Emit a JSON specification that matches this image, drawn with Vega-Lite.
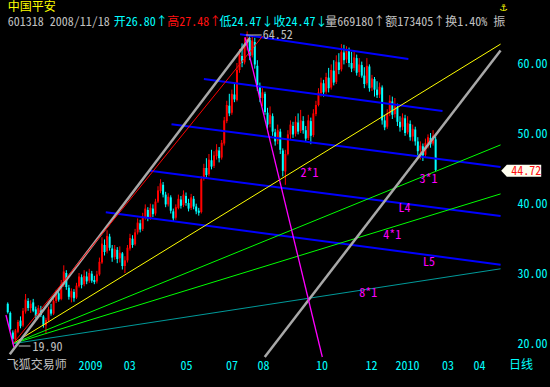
{
"$schema":"https://vega.github.io/schema/vega-lite/v6.json",
"width":490,"height":329,
"autosize":{"type":"none"},
"padding":{"left":0,"top":28,"right":60,"bottom":30},
"background":"#000000",
"config":{"view":{"stroke":null}},
"datasets":{
"k":[
{"i":-2,"o":25.6,"h":25.8,"l":24.2,"c":24.4},
{"i":-1,"o":24.3,"h":24.5,"l":21.8,"c":22.0},
{"i":0,"o":21.5,"h":21.8,"l":19.9,"c":20.6},
{"i":1,"o":20.5,"h":22.0,"l":20.3,"c":21.8},
{"i":2,"o":21.6,"h":23.3,"l":21.4,"c":23.0},
{"i":3,"o":23.2,"h":23.8,"l":22.1,"c":22.4},
{"i":4,"o":22.5,"h":25.0,"l":22.3,"c":24.6},
{"i":5,"o":24.5,"h":27.0,"l":24.2,"c":26.2},
{"i":6,"o":26.0,"h":26.4,"l":24.6,"c":25.0},
{"i":7,"o":25.0,"h":26.1,"l":24.3,"c":25.6},
{"i":8,"o":25.8,"h":26.3,"l":24.4,"c":24.6},
{"i":9,"o":24.8,"h":25.2,"l":23.5,"c":23.8},
{"i":10,"o":23.9,"h":25.4,"l":23.6,"c":25.0},
{"i":11,"o":24.8,"h":25.3,"l":23.7,"c":24.0},
{"i":12,"o":23.8,"h":24.0,"l":22.2,"c":22.6},
{"i":13,"o":22.5,"h":23.6,"l":21.4,"c":23.3},
{"i":14,"o":23.2,"h":25.2,"l":23.0,"c":24.8},
{"i":15,"o":24.8,"h":25.6,"l":23.9,"c":24.2},
{"i":16,"o":24.2,"h":26.4,"l":24.0,"c":26.0},
{"i":17,"o":26.0,"h":27.6,"l":25.7,"c":27.2},
{"i":18,"o":27.1,"h":27.8,"l":25.9,"c":26.2},
{"i":19,"o":26.3,"h":29.0,"l":26.1,"c":28.4},
{"i":20,"o":28.3,"h":31.1,"l":28.0,"c":30.2},
{"i":21,"o":30.0,"h":30.4,"l":27.6,"c":28.0},
{"i":22,"o":27.9,"h":28.3,"l":26.2,"c":26.6},
{"i":23,"o":26.5,"h":27.8,"l":25.8,"c":27.4},
{"i":24,"o":27.3,"h":27.7,"l":25.9,"c":26.4},
{"i":25,"o":26.5,"h":28.6,"l":26.3,"c":28.2},
{"i":26,"o":28.1,"h":30.0,"l":27.9,"c":29.5},
{"i":27,"o":29.4,"h":29.8,"l":27.8,"c":28.3},
{"i":28,"o":28.4,"h":30.4,"l":28.1,"c":29.6},
{"i":29,"o":29.5,"h":30.2,"l":28.4,"c":28.8},
{"i":30,"o":28.9,"h":30.6,"l":28.6,"c":30.0},
{"i":31,"o":29.9,"h":30.3,"l":28.6,"c":28.9},
{"i":32,"o":29.0,"h":29.6,"l":28.4,"c":28.7},
{"i":33,"o":28.8,"h":30.3,"l":28.5,"c":29.8},
{"i":34,"o":29.8,"h":32.2,"l":29.6,"c":31.6},
{"i":35,"o":31.5,"h":35.1,"l":31.3,"c":34.2},
{"i":36,"o":34.0,"h":34.8,"l":32.5,"c":33.0},
{"i":37,"o":33.1,"h":36.1,"l":32.8,"c":35.3},
{"i":38,"o":35.2,"h":35.6,"l":33.2,"c":33.6},
{"i":39,"o":33.5,"h":34.0,"l":31.6,"c":32.2},
{"i":40,"o":32.3,"h":34.0,"l":31.9,"c":33.4},
{"i":41,"o":33.3,"h":33.7,"l":31.4,"c":32.0},
{"i":42,"o":32.1,"h":33.8,"l":31.5,"c":32.9},
{"i":43,"o":32.8,"h":33.0,"l":30.5,"c":31.0},
{"i":44,"o":31.0,"h":32.4,"l":30.0,"c":31.8},
{"i":45,"o":31.8,"h":34.0,"l":31.5,"c":33.6},
{"i":46,"o":33.5,"h":35.6,"l":33.2,"c":35.0},
{"i":47,"o":34.9,"h":35.4,"l":33.6,"c":34.0},
{"i":48,"o":34.1,"h":36.3,"l":33.9,"c":35.8},
{"i":49,"o":35.8,"h":37.8,"l":35.5,"c":37.2},
{"i":50,"o":37.1,"h":37.6,"l":35.8,"c":36.2},
{"i":51,"o":36.3,"h":38.6,"l":36.0,"c":38.0},
{"i":52,"o":37.9,"h":39.8,"l":37.6,"c":39.2},
{"i":53,"o":39.0,"h":39.4,"l":37.4,"c":37.8},
{"i":54,"o":37.9,"h":39.9,"l":37.6,"c":39.3},
{"i":55,"o":39.2,"h":39.8,"l":38.0,"c":38.4},
{"i":56,"o":38.5,"h":40.6,"l":38.2,"c":40.2},
{"i":57,"o":40.2,"h":42.4,"l":40.0,"c":41.8},
{"i":58,"o":41.7,"h":43.4,"l":41.4,"c":42.8},
{"i":59,"o":42.6,"h":43.0,"l":40.8,"c":41.2},
{"i":60,"o":41.2,"h":41.6,"l":39.4,"c":39.8},
{"i":61,"o":39.8,"h":41.4,"l":39.5,"c":40.9},
{"i":62,"o":40.8,"h":41.1,"l":38.5,"c":38.9},
{"i":63,"o":38.8,"h":39.2,"l":37.3,"c":37.8},
{"i":64,"o":37.9,"h":39.8,"l":37.6,"c":39.4},
{"i":65,"o":39.3,"h":41.2,"l":39.1,"c":40.6},
{"i":66,"o":40.5,"h":41.0,"l":39.2,"c":39.6},
{"i":67,"o":39.7,"h":41.8,"l":39.4,"c":41.2},
{"i":68,"o":41.0,"h":41.5,"l":39.6,"c":40.0},
{"i":69,"o":40.0,"h":40.6,"l":38.8,"c":39.2},
{"i":70,"o":39.3,"h":41.3,"l":39.0,"c":40.8},
{"i":71,"o":40.6,"h":41.0,"l":39.1,"c":39.5},
{"i":72,"o":39.5,"h":39.9,"l":38.4,"c":38.8},
{"i":73,"o":38.9,"h":39.3,"l":38.2,"c":38.6},
{"i":74,"o":38.7,"h":43.8,"l":38.5,"c":43.4},
{"i":75,"o":43.5,"h":45.6,"l":43.2,"c":45.0},
{"i":76,"o":45.0,"h":46.4,"l":43.6,"c":44.0},
{"i":77,"o":44.1,"h":47.0,"l":43.8,"c":46.2},
{"i":78,"o":46.1,"h":47.6,"l":44.8,"c":45.2},
{"i":79,"o":45.3,"h":47.4,"l":45.0,"c":46.8},
{"i":80,"o":46.7,"h":48.4,"l":46.2,"c":47.6},
{"i":81,"o":47.5,"h":48.0,"l":45.8,"c":46.4},
{"i":82,"o":46.5,"h":49.0,"l":46.2,"c":48.6},
{"i":83,"o":48.5,"h":52.3,"l":48.2,"c":51.8},
{"i":84,"o":51.7,"h":54.6,"l":51.4,"c":54.0},
{"i":85,"o":53.9,"h":55.6,"l":52.4,"c":52.8},
{"i":86,"o":52.9,"h":56.2,"l":52.6,"c":55.6},
{"i":87,"o":55.5,"h":57.1,"l":54.4,"c":54.8},
{"i":88,"o":54.7,"h":60.0,"l":54.5,"c":59.0},
{"i":89,"o":59.0,"h":62.0,"l":58.6,"c":61.2},
{"i":90,"o":61.0,"h":62.8,"l":59.4,"c":60.0},
{"i":91,"o":60.1,"h":63.6,"l":59.8,"c":62.6},
{"i":92,"o":62.5,"h":64.52,"l":61.8,"c":63.4},
{"i":93,"o":63.3,"h":64.0,"l":60.4,"c":61.0},
{"i":94,"o":61.1,"h":64.0,"l":60.8,"c":63.2},
{"i":95,"o":63.0,"h":63.6,"l":59.2,"c":59.8},
{"i":96,"o":59.6,"h":60.4,"l":56.0,"c":56.8},
{"i":97,"o":56.6,"h":57.2,"l":54.4,"c":55.0},
{"i":98,"o":55.0,"h":56.4,"l":53.8,"c":55.8},
{"i":99,"o":55.6,"h":55.9,"l":52.6,"c":53.0},
{"i":100,"o":52.9,"h":53.6,"l":50.6,"c":51.2},
{"i":101,"o":51.3,"h":53.8,"l":50.8,"c":52.6},
{"i":102,"o":52.4,"h":52.8,"l":49.6,"c":50.2},
{"i":103,"o":50.1,"h":50.6,"l":48.2,"c":48.8},
{"i":104,"o":48.9,"h":51.2,"l":48.4,"c":50.4},
{"i":105,"o":50.2,"h":50.6,"l":47.0,"c":47.6},
{"i":106,"o":47.5,"h":47.8,"l":43.8,"c":44.6},
{"i":107,"o":44.5,"h":47.6,"l":42.6,"c":47.0},
{"i":108,"o":47.0,"h":50.4,"l":46.8,"c":49.8},
{"i":109,"o":49.8,"h":51.8,"l":49.0,"c":51.2},
{"i":110,"o":51.0,"h":51.6,"l":49.3,"c":49.8},
{"i":111,"o":49.9,"h":52.4,"l":49.5,"c":51.6},
{"i":112,"o":51.5,"h":52.8,"l":49.8,"c":50.2},
{"i":113,"o":50.3,"h":53.3,"l":50.0,"c":51.8},
{"i":114,"o":51.7,"h":52.4,"l":49.9,"c":50.4},
{"i":115,"o":50.4,"h":51.0,"l":48.8,"c":49.2},
{"i":116,"o":49.3,"h":52.6,"l":49.0,"c":51.8},
{"i":117,"o":51.7,"h":52.2,"l":48.4,"c":49.6},
{"i":118,"o":49.7,"h":53.4,"l":49.4,"c":52.8},
{"i":119,"o":52.7,"h":54.6,"l":52.4,"c":54.0},
{"i":120,"o":54.0,"h":56.4,"l":53.8,"c":55.8},
{"i":121,"o":55.7,"h":57.9,"l":55.2,"c":57.2},
{"i":122,"o":57.1,"h":57.6,"l":55.2,"c":55.8},
{"i":123,"o":55.9,"h":58.6,"l":55.6,"c":58.0},
{"i":124,"o":57.9,"h":59.3,"l":55.8,"c":56.4},
{"i":125,"o":56.5,"h":59.8,"l":56.2,"c":59.0},
{"i":126,"o":58.9,"h":60.4,"l":56.8,"c":57.2},
{"i":127,"o":57.3,"h":61.1,"l":57.0,"c":60.2},
{"i":128,"o":60.1,"h":61.4,"l":58.4,"c":59.0},
{"i":129,"o":59.1,"h":62.7,"l":58.8,"c":61.6},
{"i":130,"o":61.5,"h":62.6,"l":59.8,"c":60.4},
{"i":131,"o":60.5,"h":62.4,"l":60.0,"c":61.8},
{"i":132,"o":61.7,"h":62.2,"l":59.4,"c":60.0},
{"i":133,"o":60.0,"h":61.6,"l":58.7,"c":59.2},
{"i":134,"o":59.3,"h":61.8,"l":58.9,"c":60.8},
{"i":135,"o":60.7,"h":61.2,"l":58.2,"c":58.6},
{"i":136,"o":58.7,"h":60.7,"l":58.0,"c":59.8},
{"i":137,"o":59.7,"h":60.2,"l":57.9,"c":58.2},
{"i":138,"o":58.2,"h":59.4,"l":56.4,"c":57.0},
{"i":139,"o":57.1,"h":60.7,"l":56.8,"c":59.6},
{"i":140,"o":59.5,"h":59.8,"l":55.9,"c":56.4},
{"i":141,"o":56.5,"h":58.3,"l":56.0,"c":57.8},
{"i":142,"o":57.7,"h":58.0,"l":55.2,"c":56.2},
{"i":143,"o":56.2,"h":57.4,"l":55.0,"c":55.4},
{"i":144,"o":55.5,"h":57.2,"l":55.0,"c":56.6},
{"i":145,"o":56.5,"h":56.8,"l":51.2,"c":51.8},
{"i":146,"o":51.8,"h":52.6,"l":50.4,"c":50.8},
{"i":147,"o":50.9,"h":53.4,"l":50.6,"c":52.8},
{"i":148,"o":52.8,"h":55.4,"l":52.4,"c":54.6},
{"i":149,"o":54.5,"h":55.2,"l":52.0,"c":52.6},
{"i":150,"o":52.7,"h":55.0,"l":52.2,"c":53.8},
{"i":151,"o":53.7,"h":54.2,"l":51.0,"c":51.6},
{"i":152,"o":51.6,"h":52.4,"l":50.2,"c":50.8},
{"i":153,"o":50.9,"h":52.8,"l":50.4,"c":52.2},
{"i":154,"o":52.1,"h":52.6,"l":49.6,"c":50.0},
{"i":155,"o":50.1,"h":52.4,"l":49.8,"c":51.4},
{"i":156,"o":51.3,"h":51.8,"l":48.9,"c":49.4},
{"i":157,"o":49.5,"h":51.2,"l":48.8,"c":50.6},
{"i":158,"o":50.5,"h":50.9,"l":48.2,"c":48.8},
{"i":159,"o":48.8,"h":49.4,"l":46.8,"c":47.4},
{"i":160,"o":47.5,"h":48.8,"l":46.2,"c":48.2},
{"i":161,"o":48.1,"h":48.5,"l":46.0,"c":46.8},
{"i":162,"o":46.9,"h":49.2,"l":46.5,"c":48.6},
{"i":163,"o":48.5,"h":49.8,"l":47.8,"c":49.4},
{"i":164,"o":49.3,"h":50.0,"l":47.9,"c":48.4},
{"i":165,"o":48.5,"h":50.4,"l":48.2,"c":49.6},
{"i":166,"o":49.1,"h":49.5,"l":44.5,"c":44.72}
],
"seg":[
{"g":"blue","i1":89.2,"p1":64.1,"i2":155.3,"p2":60.57},
{"g":"blue","i1":75.0,"p1":57.71,"i2":168.7,"p2":53.14},
{"g":"blue","i1":62.3,"p1":51.24,"i2":191.5,"p2":45.14},
{"g":"blue","i1":53.8,"p1":44.61,"i2":191.5,"p2":38.14},
{"g":"blue","i1":36.5,"p1":38.67,"i2":191.5,"p2":31.19},
{"g":"yellow","i1":0,"p1":19.9,"i2":191.5,"p2":62.7},
{"g":"green","i1":0,"p1":19.9,"i2":191.5,"p2":48.3},
{"g":"green","i1":0,"p1":19.9,"i2":191.5,"p2":41.3},
{"g":"teal","i1":0,"p1":19.9,"i2":191.5,"p2":30.6},
{"g":"gray","i1":-1.2,"p1":18.4,"i2":93.1,"p2":63.57},
{"g":"gray","i1":98.9,"p1":18.0,"i2":191.5,"p2":61.79},
{"g":"red","i1":0,"p1":19.86,"i2":98.1,"p2":63.86},
{"g":"magenta","i1":91.15,"p1":63.71,"i2":121.5,"p2":18.0},
{"g":"magenta","i1":-2.7,"p1":24.0,"i2":0.4,"p2":19.43},
{"g":"leader","i1":91.5,"p1":64.0,"i2":97.7,"p2":64.0},
{"g":"leader","i1":2.3,"p1":19.57,"i2":6.9,"p2":19.57}
],
"txt":[
{"t":"中国平安","i":-2.0,"p":67.95,"g":"yel"},
{"t":"⚓","i":191.2,"p":67.95,"g":"yel"},
{"t":"601318 2008/11/18","i":-2.0,"p":65.86,"g":"gray"},
{"t":"开26.80↑","i":39.6,"p":65.86,"g":"cyan"},
{"t":"高27.48↑","i":60.6,"p":65.86,"g":"red"},
{"t":"低24.47↓收24.47↓","i":81.15,"p":65.86,"g":"cyan"},
{"t":"量669180↑额173405↑换1.40% 振","i":122.7,"p":65.86,"g":"gray"},
{"t":"飞狐交易师","i":-2.4,"p":16.86,"g":"gray"},
{"t":"日线","i":194.8,"p":16.86,"g":"cyan"},
{"t":"64.52","i":98.1,"p":64.0,"g":"gray"},
{"t":"19.90","i":7.7,"p":19.43,"g":"gray"},
{"t":"2*1","i":112.96,"p":44.24,"g":"mag"},
{"t":"3*1","i":159.7,"p":43.4,"g":"mag"},
{"t":"L4","i":151.4,"p":39.3,"g":"mag"},
{"t":"4*1","i":145.4,"p":35.4,"g":"mag"},
{"t":"L5","i":161.0,"p":31.6,"g":"mag"},
{"t":"8*1","i":136.0,"p":27.2,"g":"mag"},
{"t":"44.72","i":195.65,"p":44.6,"g":"red"}
]
},
"layer":[
{"data":{"name":"k"},
 "mark":{"type":"rule","strokeWidth":1},
 "encoding":{
  "x":{"field":"i","type":"quantitative","scale":{"domain":[-3.0769,185.3846],"nice":false,"zero":false},
   "axis":{"values":[25.6,43.4,65.6,83.5,95.9,118.8,138.3,150,168.3,180.7],
    "labelExpr":"datum.value<30?'2009':datum.value<50?'03':datum.value<70?'05':datum.value<90?'07':datum.value<100?'08':datum.value<125?'10':datum.value<145?'12':datum.value<160?'2010':datum.value<175?'03':'04'",
    "labelAlign":"left","labelBaseline":"middle","labelPadding":8,"ticks":false,"domain":false,"grid":false,"title":null,
    "labelColor":"#00ffff","labelFont":"Noto Sans Mono CJK SC, DejaVu Sans Mono, monospace","labelFontSize":12,"labelOverlap":false,"labelFlush":false}},
  "y":{"field":"l","type":"quantitative","scale":{"domain":[18,65],"nice":false,"zero":false},
   "axis":{"orient":"right","values":[20,30,40,50,60],"format":".2f","labelAlign":"left","labelBaseline":"middle","labelPadding":27,"ticks":false,"domain":false,"grid":false,"title":null,
    "labelColor":"#00ffff","labelFont":"Noto Sans Mono CJK SC, DejaVu Sans Mono, monospace","labelFontSize":12}},
  "y2":{"field":"h"},
  "color":{"condition":{"test":"datum.c >= datum.o","value":"#ff0000"},"value":"#00ffff"}
 }},
{"data":{"name":"k"},
 "mark":{"type":"bar","width":2},
 "encoding":{
  "x":{"field":"i","type":"quantitative","scale":{"domain":[-3.0769,185.3846],"nice":false,"zero":false},"axis":{"title":null}},
  "y":{"field":"o","type":"quantitative","scale":{"domain":[18,65],"nice":false,"zero":false},"axis":{"title":null}},
  "y2":{"field":"c"},
  "color":{"condition":{"test":"datum.c >= datum.o","value":"#ff0000"},"value":"#00ffff"}
 }},
{"data":{"name":"seg"},
 "transform":[{"filter":"datum.g=='blue'"}],
 "mark":{"type":"rule","color":"#0000ff","strokeWidth":2},
 "encoding":{"x":{"field":"i1","type":"quantitative","scale":{"domain":[-3.0769,185.3846],"nice":false,"zero":false},"axis":{"title":null}},"x2":{"field":"i2"},
  "y":{"field":"p1","type":"quantitative","scale":{"domain":[18,65],"nice":false,"zero":false},"axis":{"title":null}},"y2":{"field":"p2"}}},
{"data":{"name":"seg"},
 "transform":[{"filter":"datum.g=='yellow'"}],
 "mark":{"type":"rule","color":"#ffff00","strokeWidth":1},
 "encoding":{"x":{"field":"i1","type":"quantitative","scale":{"domain":[-3.0769,185.3846],"nice":false,"zero":false},"axis":{"title":null}},"x2":{"field":"i2"},
  "y":{"field":"p1","type":"quantitative","scale":{"domain":[18,65],"nice":false,"zero":false},"axis":{"title":null}},"y2":{"field":"p2"}}},
{"data":{"name":"seg"},
 "transform":[{"filter":"datum.g=='green'"}],
 "mark":{"type":"rule","color":"#00ff00","strokeWidth":1},
 "encoding":{"x":{"field":"i1","type":"quantitative","scale":{"domain":[-3.0769,185.3846],"nice":false,"zero":false},"axis":{"title":null}},"x2":{"field":"i2"},
  "y":{"field":"p1","type":"quantitative","scale":{"domain":[18,65],"nice":false,"zero":false},"axis":{"title":null}},"y2":{"field":"p2"}}},
{"data":{"name":"seg"},
 "transform":[{"filter":"datum.g=='teal'"}],
 "mark":{"type":"rule","color":"#009a9a","strokeWidth":1},
 "encoding":{"x":{"field":"i1","type":"quantitative","scale":{"domain":[-3.0769,185.3846],"nice":false,"zero":false},"axis":{"title":null}},"x2":{"field":"i2"},
  "y":{"field":"p1","type":"quantitative","scale":{"domain":[18,65],"nice":false,"zero":false},"axis":{"title":null}},"y2":{"field":"p2"}}},
{"data":{"name":"seg"},
 "transform":[{"filter":"datum.g=='gray'"}],
 "mark":{"type":"rule","color":"#a8a8a8","strokeWidth":2.5},
 "encoding":{"x":{"field":"i1","type":"quantitative","scale":{"domain":[-3.0769,185.3846],"nice":false,"zero":false},"axis":{"title":null}},"x2":{"field":"i2"},
  "y":{"field":"p1","type":"quantitative","scale":{"domain":[18,65],"nice":false,"zero":false},"axis":{"title":null}},"y2":{"field":"p2"}}},
{"data":{"name":"seg"},
 "transform":[{"filter":"datum.g=='red'"}],
 "mark":{"type":"rule","color":"#ff0000","strokeWidth":1},
 "encoding":{"x":{"field":"i1","type":"quantitative","scale":{"domain":[-3.0769,185.3846],"nice":false,"zero":false},"axis":{"title":null}},"x2":{"field":"i2"},
  "y":{"field":"p1","type":"quantitative","scale":{"domain":[18,65],"nice":false,"zero":false},"axis":{"title":null}},"y2":{"field":"p2"}}},
{"data":{"name":"seg"},
 "transform":[{"filter":"datum.g=='magenta'"}],
 "mark":{"type":"rule","color":"#ff00ff","strokeWidth":1.3},
 "encoding":{"x":{"field":"i1","type":"quantitative","scale":{"domain":[-3.0769,185.3846],"nice":false,"zero":false},"axis":{"title":null}},"x2":{"field":"i2"},
  "y":{"field":"p1","type":"quantitative","scale":{"domain":[18,65],"nice":false,"zero":false},"axis":{"title":null}},"y2":{"field":"p2"}}},
{"data":{"name":"seg"},
 "transform":[{"filter":"datum.g=='leader'"}],
 "mark":{"type":"rule","color":"#c0c0c0","strokeWidth":1},
 "encoding":{"x":{"field":"i1","type":"quantitative","scale":{"domain":[-3.0769,185.3846],"nice":false,"zero":false},"axis":{"title":null}},"x2":{"field":"i2"},
  "y":{"field":"p1","type":"quantitative","scale":{"domain":[18,65],"nice":false,"zero":false},"axis":{"title":null}},"y2":{"field":"p2"}}},
{"data":{"values":[{"v":44.72}]},
 "mark":{"type":"point","shape":"M-1,0L-0.72,-0.3L1,-0.3L1,0.3L-0.72,0.3Z","size":1600,"filled":true,"color":"#fffff0","opacity":1},
 "encoding":{"x":{"datum":199.6,"type":"quantitative","scale":{"domain":[-3.0769,185.3846],"nice":false,"zero":false},"axis":{"title":null}},
  "y":{"datum":44.6,"type":"quantitative","scale":{"domain":[18,65],"nice":false,"zero":false},"axis":{"title":null}}}},
{"data":{"name":"txt"},
 "mark":{"type":"text","align":"left","baseline":"middle","font":"Noto Sans Mono CJK SC, DejaVu Sans Mono, monospace","fontSize":12},
 "encoding":{"x":{"field":"i","type":"quantitative","scale":{"domain":[-3.0769,185.3846],"nice":false,"zero":false},"axis":{"title":null}},
  "y":{"field":"p","type":"quantitative","scale":{"domain":[18,65],"nice":false,"zero":false},"axis":{"title":null}},
  "text":{"field":"t"},
  "color":{"field":"g","type":"nominal","scale":{"domain":["yel","gray","cyan","red","mag"],"range":["#ffff00","#c0c0c0","#00ffff","#ff1010","#ff00ff"]},"legend":null}}}
]
}
